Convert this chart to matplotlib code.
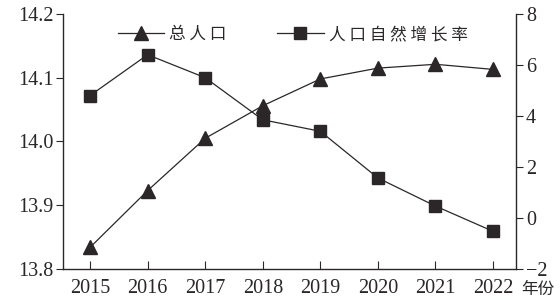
import matplotlib
matplotlib.use("Agg")
import matplotlib.pyplot as plt

plt.rcParams['font.family'] = ['Liberation Serif', 'Noto Sans CJK SC']

years = [2015, 2016, 2017, 2018, 2019, 2020, 2021, 2022]
total_pop = [13.834, 13.923, 14.005, 14.056, 14.098, 14.115, 14.121, 14.113]
growth_rate = [4.8, 6.4, 5.5, 3.85, 3.4, 1.57, 0.47, -0.52]

ink = '#2b2728'

fig = plt.figure(figsize=(5.6, 3.02), dpi=100)
ax = fig.add_axes([0.1125, 0.109, 0.809, 0.845])
ax2 = ax.twinx()

l1, = ax.plot(years, total_pop, color=ink, lw=0.9, marker='^', ms=10,
              mfc=ink, mec=ink, label='总 人 口')
l2, = ax2.plot(years, growth_rate, color=ink, lw=0.9, marker='s', ms=9,
               mfc=ink, mec=ink, label='人 口 自 然 增 长 率')

ax.set_xlim(2014.53, 2022.4)
ax.set_ylim(13.8, 14.2)
ax2.set_ylim(-2, 8)
ax.set_yticks([13.8, 13.9, 14.0, 14.1, 14.2])
ax.set_yticklabels(['13.8', '13.9', '14.0', '14.1', '14.2'])
ax2.set_yticks([-2, 0, 2, 4, 6, 8])
ax2.set_yticklabels(['\u22122', '0', '2', '4', '6', '8'])
ax.set_xticks(years)

for a in (ax, ax2):
    a.spines['top'].set_visible(False)
    for s in a.spines.values():
        s.set_color(ink)
        s.set_linewidth(1.0)
ax.spines['right'].set_visible(False)
ax2.spines['left'].set_visible(False)
ax2.spines['bottom'].set_visible(False)

ax.tick_params(axis='x', direction='in', length=6, color=ink, labelsize=14.5, pad=7, labelcolor=ink)
ax.tick_params(axis='y', direction='out', length=5, color=ink, labelsize=14.5, pad=2, labelcolor=ink)
ax2.tick_params(axis='y', direction='out', length=5, color=ink, labelsize=14.5, pad=2, labelcolor=ink)

fig.text(0.931, 0.04, '年份', fontsize=12, color=ink, va='center',
         family=['Noto Sans CJK SC'])

ax.legend(handles=[l1, l2], ncol=2, frameon=False, loc='upper left',
          bbox_to_anchor=(0.121, 0.952), borderaxespad=0, borderpad=0,
          prop={'family': 'Noto Sans CJK SC', 'size': 12},
          handlelength=2.8, columnspacing=3.0, handletextpad=0.3, labelcolor=ink)

fig.savefig('out.png', dpi=100)
